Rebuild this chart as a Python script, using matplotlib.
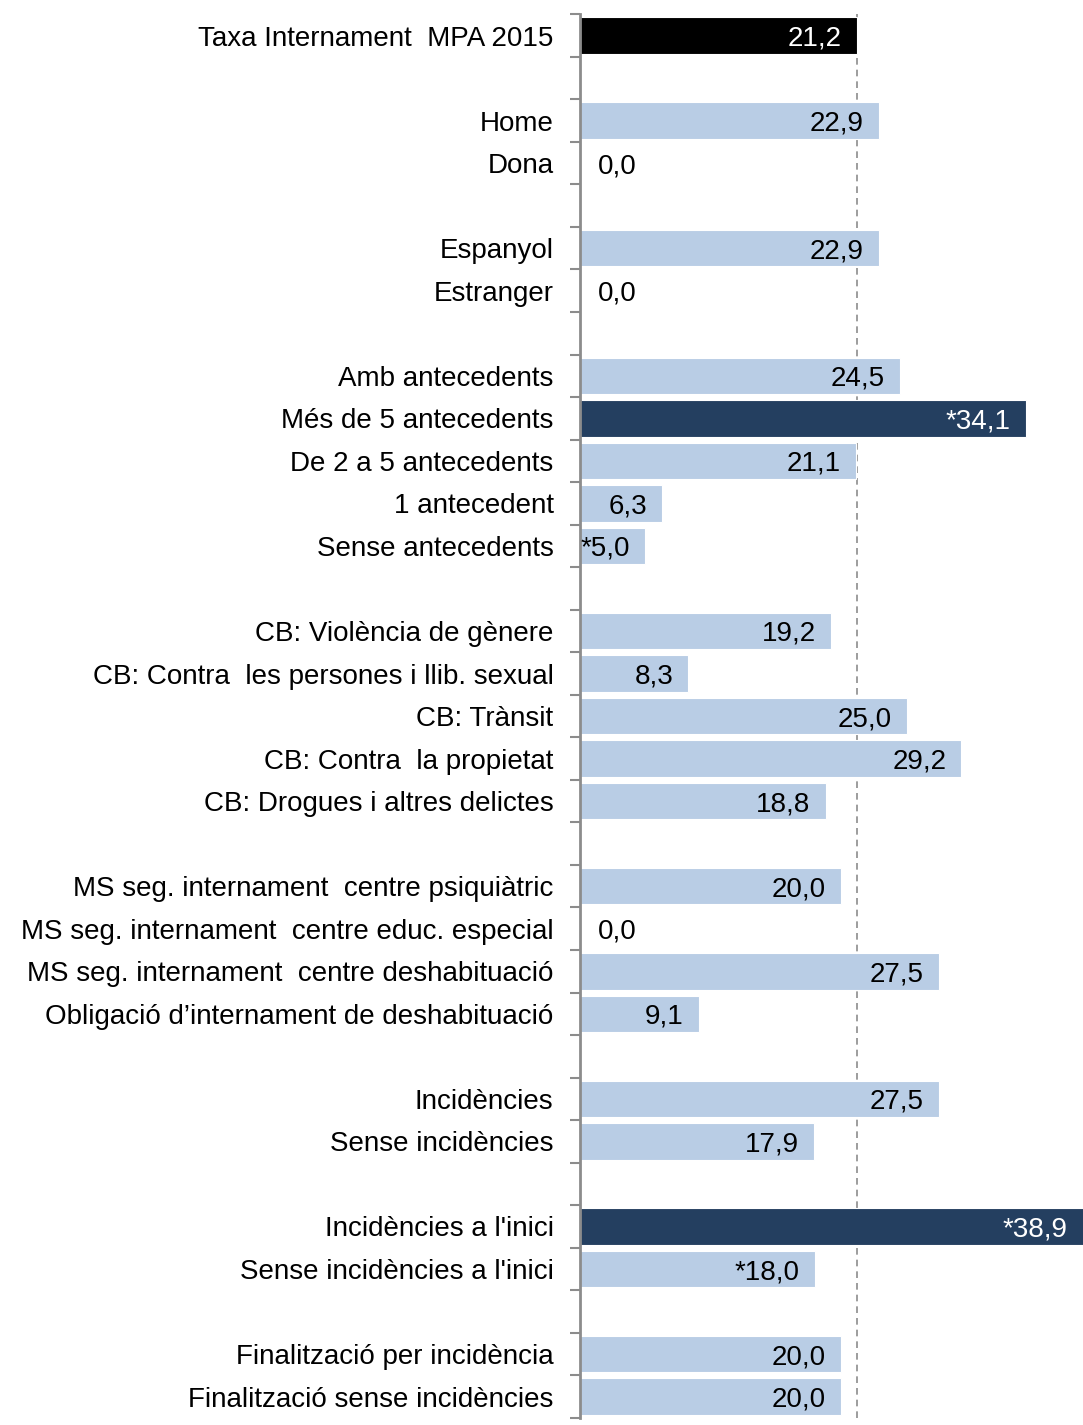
import numpy as np
import matplotlib.pyplot as plt

plt.rcParams['font.family'] = ['Liberation Sans', 'DejaVu Sans']

# rows top to bottom, None = blank spacer row
labels = ['Taxa Internament  MPA 2015', None,
          'Home', 'Dona', None,
          'Espanyol', 'Estranger', None,
          'Amb antecedents', 'Més de 5 antecedents', 'De 2 a 5 antecedents',
          '1 antecedent', 'Sense antecedents', None,
          'CB: Violència de gènere', 'CB: Contra  les persones i llib. sexual',
          'CB: Trànsit', 'CB: Contra  la propietat', 'CB: Drogues i altres delictes', None,
          'MS seg. internament  centre psiquiàtric',
          'MS seg. internament  centre educ. especial',
          'MS seg. internament  centre deshabituació',
          'Obligació d’internament de deshabituació', None,
          'Incidències', 'Sense incidències', None,
          "Incidències a l'inici", "Sense incidències a l'inici", None,
          'Finalització per incidència', 'Finalització sense incidències']
values = [21.2, None,
          22.9, 0.0, None,
          22.9, 0.0, None,
          24.5, 34.1, 21.1, 6.3, 5.0, None,
          19.2, 8.3, 25.0, 29.2, 18.8, None,
          20.0, 0.0, 27.5, 9.1, None,
          27.5, 17.9, None,
          38.9, 18.0, None,
          20.0, 20.0]
value_text = ['21,2', None,
              '22,9', '0,0', None,
              '22,9', '0,0', None,
              '24,5', '*34,1', '21,1', '6,3', '*5,0', None,
              '19,2', '8,3', '25,0', '29,2', '18,8', None,
              '20,0', '0,0', '27,5', '9,1', None,
              '27,5', '17,9', None,
              '*38,9', '*18,0', None,
              '20,0', '20,0']
kind = ['total', None,
        'n', 'n', None,
        'n', 'n', None,
        'n', 'sig', 'n', 'n', 'n', None,
        'n', 'n', 'n', 'n', 'n', None,
        'n', 'n', 'n', 'n', None,
        'n', 'n', None,
        'sig', 'n', None,
        'n', 'n']
reference = 21.2

colors = {'total': '#000000', 'sig': '#243F60', 'n': '#B9CDE5'}
text_colors = {'total': 'white', 'sig': 'white', 'n': 'black'}

fig = plt.figure(figsize=(10.83, 14.25), dpi=100)
ax = fig.add_axes([0.5355, 0.005, 0.4645, 0.985])

n = len(labels)
y = np.arange(n)
fs = 20

ax.axvline(reference, color='#8c8c8c', lw=1.2, ls=(0, (4, 3)), zorder=1)

for i in range(n):
    if values[i] is None:
        continue
    ax.barh(i, values[i], height=0.86, color=colors[kind[i]],
            edgecolor='white', linewidth=0.8, zorder=2)
    if values[i] == 0:
        ax.annotate(value_text[i], (0, i), xytext=(13, 0), textcoords='offset points',
                    ha='left', va='center_baseline', fontsize=fs, color='black', zorder=3)
    else:
        xv = min(values[i], 38.5)
        ax.annotate(value_text[i], (xv, i), xytext=(-11, 0), textcoords='offset points',
                    ha='right', va='center_baseline', fontsize=fs,
                    color=text_colors[kind[i]], zorder=3)

ax.set_xlim(0, 38.5)
ax.set_ylim(n - 0.5, -0.5)
ax.set_xticks([])

ax.set_yticks(y)
ax.set_yticklabels([l if l else '' for l in labels], fontsize=fs, va='center_baseline')
ax.tick_params(axis='y', which='major', length=0, pad=19)
ax.set_yticks(np.arange(-0.5, n, 1), minor=True)
ax.tick_params(axis='y', which='minor', length=7, width=1.5, color='#8c8c8c', direction='out')

for s in ['top', 'right', 'bottom']:
    ax.spines[s].set_visible(False)
ax.spines['left'].set_color('#8c8c8c')
ax.spines['left'].set_linewidth(2)

fig.savefig('out.png', dpi=100)
